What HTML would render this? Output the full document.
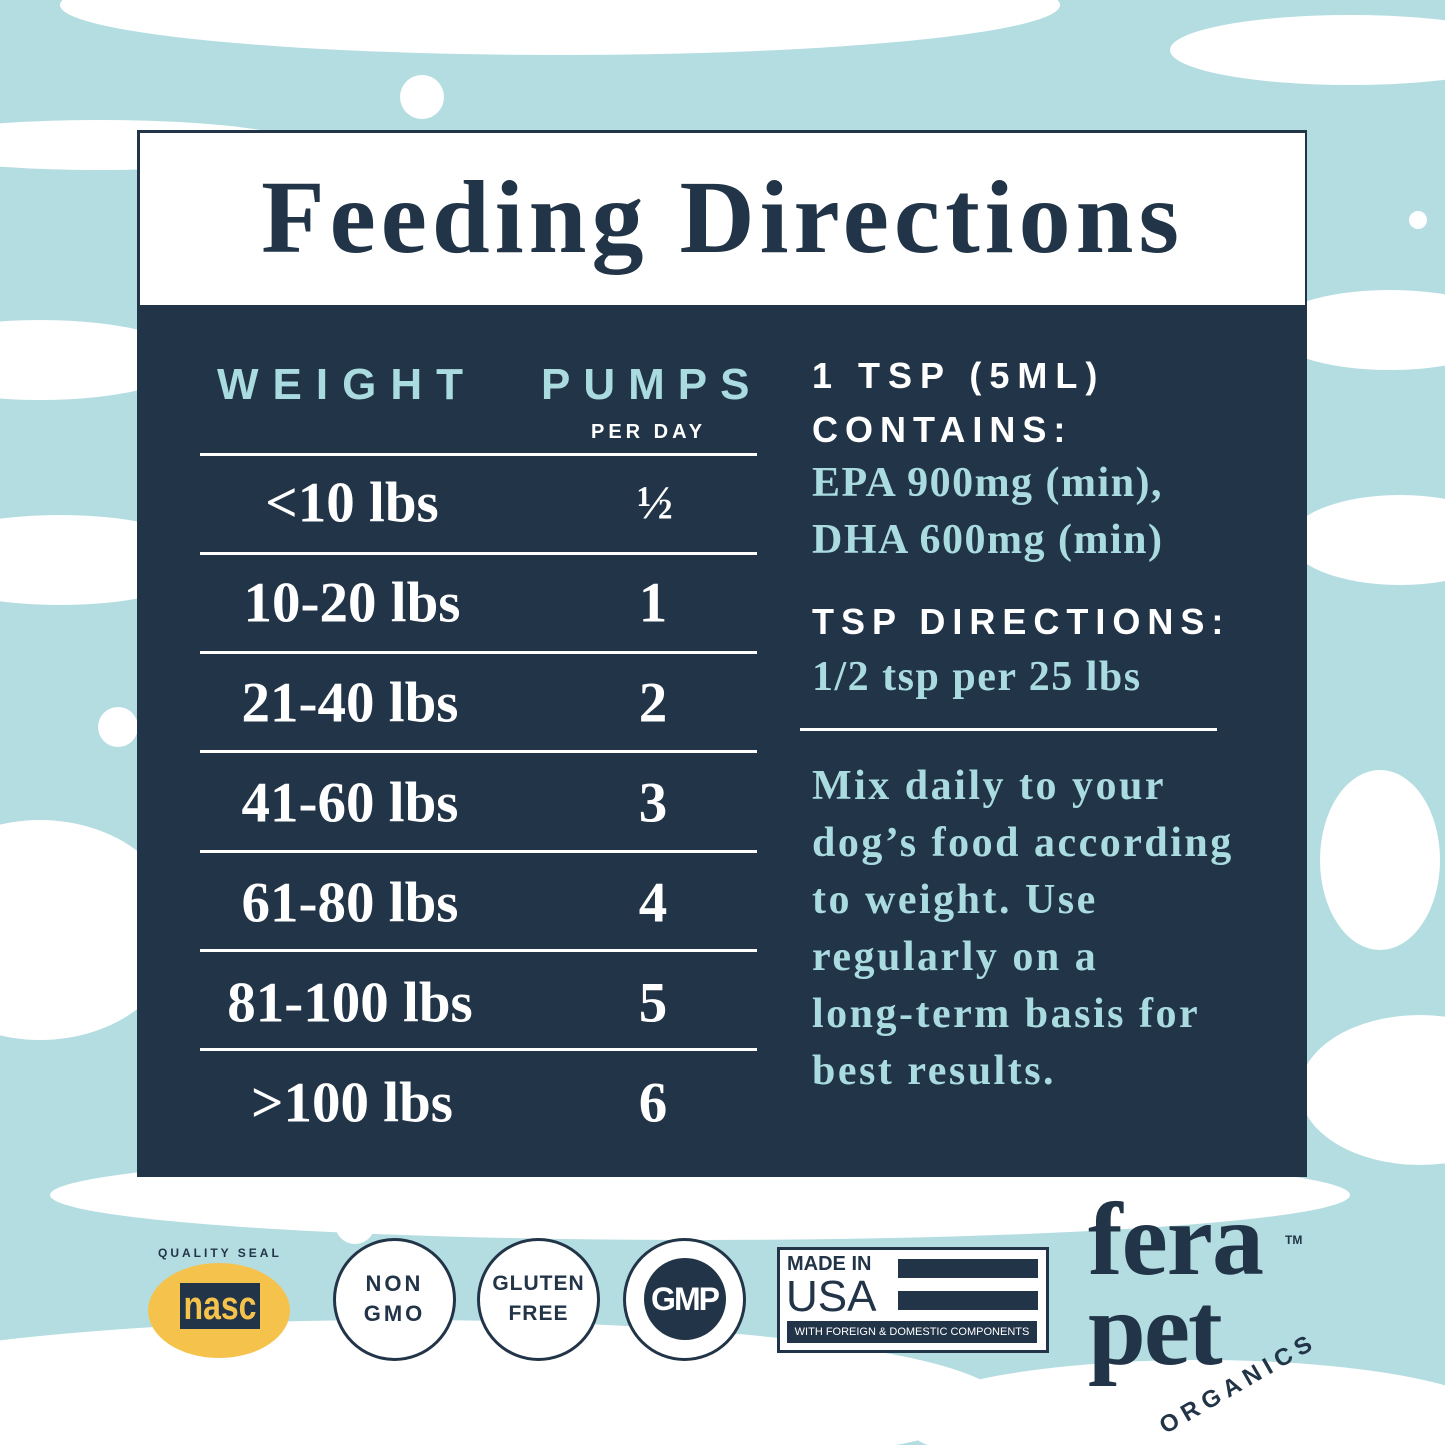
<!DOCTYPE html>
<html><head><style>
body{margin:0;width:1445px;height:1445px;overflow:hidden;background:#b4dde2;position:relative;font-family:"Liberation Serif",serif}
.a{position:absolute;white-space:nowrap}
.sans{font-family:"Liberation Sans",sans-serif;font-weight:bold}
.w{color:#fff}.lb{color:#a9dbe0}
.hl{position:absolute;left:200px;width:557px;height:3px;background:#fff}
.row{position:absolute;font-size:57px;color:#fff;transform:translate(-50%,-50%);white-space:nowrap;font-weight:bold;letter-spacing:0px}
.p{font-size:42px;line-height:57px;color:#a9dbe0;font-weight:bold;letter-spacing:1.5px}
.badge{position:absolute;border:3px solid #223447;border-radius:50%;background:#fff;color:#223447;text-align:center;font-family:"Liberation Sans",sans-serif;font-weight:bold}
</style></head><body>
<svg class="a" style="left:0;top:0" width="1445" height="1445">
<g fill="#fff">
<ellipse cx="560" cy="5" rx="500" ry="50"/>
<ellipse cx="1350" cy="50" rx="180" ry="35"/>
<ellipse cx="100" cy="145" rx="200" ry="25"/>
<ellipse cx="40" cy="360" rx="150" ry="40"/>
<ellipse cx="1390" cy="330" rx="120" ry="40"/>
<ellipse cx="60" cy="560" rx="150" ry="45"/>
<ellipse cx="1400" cy="540" rx="110" ry="45"/>
<ellipse cx="1380" cy="860" rx="60" ry="90"/>
<ellipse cx="40" cy="930" rx="140" ry="110"/>
<ellipse cx="1420" cy="1090" rx="120" ry="75"/>
<ellipse cx="700" cy="1195" rx="650" ry="45"/>
<ellipse cx="400" cy="1400" rx="600" ry="80"/>
<ellipse cx="1200" cy="1420" rx="300" ry="60"/>
<circle cx="422" cy="97" r="22"/><circle cx="118" cy="727" r="20"/><circle cx="1418" cy="220" r="9"/><circle cx="355" cy="1224" r="20"/>
</g></svg>
<div class="a" style="left:137px;top:130px;width:1170px;height:1047px;background:#223447"></div>
<div class="a" style="left:140px;top:133px;width:1165px;height:172px;background:#fff"></div>
<div class="a" style="left:140px;width:1165px;top:156px;text-align:center;font-size:104px;font-weight:bold;color:#223447;line-height:124px;letter-spacing:5px">Feeding Directions</div>
<div class="a sans lb" style="left:217px;top:360px;font-size:44px;letter-spacing:14px">WEIGHT</div>
<div class="a sans lb" style="left:541px;top:360px;font-size:44px;letter-spacing:13px">PUMPS</div>
<div class="a sans w" style="left:591px;top:421px;font-size:20px;letter-spacing:4px">PER DAY</div>
<div class="hl" style="top:453px"></div><div class="hl" style="top:552px"></div><div class="hl" style="top:651px"></div><div class="hl" style="top:750px"></div><div class="hl" style="top:850px"></div><div class="hl" style="top:949px"></div><div class="hl" style="top:1048px"></div>
<div class="row" style="left:352px;top:503px">&lt;10 lbs</div><div class="row" style="left:655px;top:503px;font-size:48px">½</div>
<div class="row" style="left:352px;top:603px">10-20 lbs</div><div class="row" style="left:653px;top:603px">1</div>
<div class="row" style="left:350px;top:703px">21-40 lbs</div><div class="row" style="left:653px;top:703px">2</div>
<div class="row" style="left:350px;top:803px">41-60 lbs</div><div class="row" style="left:653px;top:803px">3</div>
<div class="row" style="left:350px;top:903px">61-80 lbs</div><div class="row" style="left:653px;top:903px">4</div>
<div class="row" style="left:350px;top:1003px">81-100 lbs</div><div class="row" style="left:653px;top:1003px">5</div>
<div class="row" style="left:352px;top:1103px">&gt;100 lbs</div><div class="row" style="left:653px;top:1103px">6</div>
<div class="a sans w" style="left:812px;top:355px;font-size:36px;letter-spacing:8px">1 TSP (5ML)</div>
<div class="a sans w" style="left:812px;top:409px;font-size:36px;letter-spacing:7px">CONTAINS:</div>
<div class="a p" style="left:812px;top:455px">EPA 900mg (min),<br>DHA 600mg (min)</div>
<div class="a sans w" style="left:812px;top:601px;font-size:36px;letter-spacing:7px">TSP DIRECTIONS:</div>
<div class="a p" style="left:812px;top:649px">1/2 tsp per 25 lbs</div>
<div class="a" style="left:800px;top:728px;width:417px;height:3px;background:#fff"></div>
<div class="a p" style="left:812px;top:758px;letter-spacing:2.5px">Mix daily to your<br>dog’s food according<br>to weight. Use<br>regularly on a<br>long-term basis for<br>best results.</div>
<div class="a" style="left:148px;top:1263px;width:142px;height:95px;border-radius:50%;background:#f5c24c"></div>
<div class="a" style="left:170px;top:1283px;width:100px;height:46px;background:#223447;color:#f5c24c;font:bold 40px 'Liberation Sans',sans-serif;text-align:center;line-height:46px;transform:scaleX(.8)">nasc</div>
<div class="a sans" style="left:158px;top:1246px;font-size:12px;color:#223447;letter-spacing:3px">QUALITY SEAL</div>
<div class="badge" style="left:333px;top:1238px;width:117px;height:117px;font-size:22px;line-height:30px;letter-spacing:3px"><div style="margin-top:28px">NON<br>GMO</div></div>
<div class="badge" style="left:477px;top:1238px;width:117px;height:117px;font-size:21px;line-height:30px;letter-spacing:1px"><div style="margin-top:28px">GLUTEN<br>FREE</div></div>
<div class="badge" style="left:623px;top:1238px;width:117px;height:117px"><div style="margin:17px auto;width:82px;height:82px;border-radius:50%;background:#223447;color:#fff;font-size:32px;line-height:82px;letter-spacing:-2px">GMP</div></div>
<div class="a" style="left:777px;top:1247px;width:266px;height:100px;border:3px solid #223447;background:#fff"></div>
<div class="a sans" style="left:787px;top:1253px;font-size:20px;color:#223447">MADE IN</div>
<div class="a" style="left:786px;top:1272px;font:44px 'Liberation Sans',sans-serif;color:#223447">USA</div>
<div class="a" style="left:898px;top:1259px;width:140px;height:19px;background:#223447"></div>
<div class="a" style="left:898px;top:1291px;width:140px;height:19px;background:#223447"></div>
<div class="a" style="left:787px;top:1321px;width:250px;height:22px;background:#223447;color:#fff;font:11px 'Liberation Sans',sans-serif;line-height:22px;text-align:center;overflow:hidden">WITH FOREIGN &amp; DOMESTIC COMPONENTS</div>
<div class="a" style="left:1088px;top:1195px;font-size:104px;font-weight:bold;color:#223447;letter-spacing:-1px;line-height:90px">fera</div>
<div class="a" style="left:1088px;top:1285px;font-size:104px;font-weight:bold;color:#223447;letter-spacing:-2px;line-height:90px">pet</div>
<div class="a sans" style="left:1285px;top:1233px;font-size:12px;color:#223447">TM</div>
<div class="a sans" style="left:1150px;top:1370px;font-size:24px;color:#223447;letter-spacing:6px;transform:rotate(-30deg)">ORGANICS</div>
</body></html>
